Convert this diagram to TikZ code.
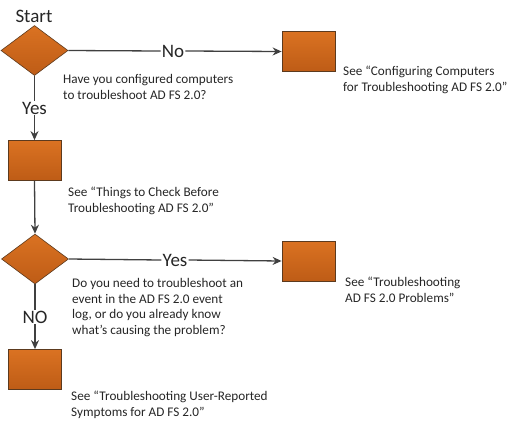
\documentclass[tikz,border=0pt]{standalone}
\usepackage{fontspec}
\setmainfont{Carlito}
\usetikzlibrary{shapes.geometric,arrows.meta}
\definecolor{boxtop}{HTML}{DA7222}
\definecolor{boxbot}{HTML}{BE5C16}
\definecolor{boxedge}{HTML}{5C3A1E}
\definecolor{linec}{HTML}{404040}
\definecolor{txt}{HTML}{262626}
\tikzset{
  decision/.style={diamond, draw=boxedge, line width=0.6pt, top color=boxtop, bottom color=boxbot,
    minimum width=67pt, minimum height=50pt, inner sep=0pt},
  stepbox/.style={rectangle, draw=boxedge, line width=0.8pt, top color=boxtop, bottom color=boxbot,
    minimum width=53pt, minimum height=40pt, inner sep=0pt},
  conn/.style={draw=linec, line width=1.3pt},
  arr/.style={conn, -{Stealth[length=9pt,width=8pt]}},
  desc/.style={anchor=base west, inner sep=0pt, align=left, text=txt,
    font=\fontsize{13.2pt}{15.6pt}\selectfont},
  biglbl/.style={fill=white, inner sep=1pt, text=txt, font=\fontsize{19pt}{22pt}\selectfont},
}
\begin{document}
\begin{tikzpicture}[x=1pt,y=-1pt]
\useasboundingbox (0,0) rectangle (510,421);
% shapes
\node[decision] (d1) at (34.5,50.5) {};
\node[stepbox] (b2) at (308.5,51.5) {};
\node[stepbox] (b3) at (34.5,160.5) {};
\node[decision] (d2) at (35,259) {};
\node[stepbox] (b4) at (308.5,261) {};
\node[stepbox] (b5) at (35,369.5) {};
% big labels
\node[biglbl, anchor=base, fill=none] (start) at (34,22) {Start};
% connectors
\node[biglbl] (no1) at (173,51) {No};
\draw[conn] (d1.east) -- (no1.west);
\draw[arr] (no1.east) -- (b2.west);
\node[biglbl] (yes1) at (34.5,108) {Yes};
\draw[conn] (d1.south) -- (yes1.north);
\draw[arr] (yes1.south) -- (b3.north);
\draw[arr] (b3.south) -- (d2.north);
\node[biglbl] (yes2) at (175,260) {Yes};
\draw[conn] (d2.east) -- (yes2.west);
\draw[arr] (yes2.east) -- (b4.west);
\node[biglbl] (no2) at (35,317) {NO};
\draw[conn] (d2.south) -- (no2.north);
\draw[arr] (no2.south) -- (b5.north);
% descriptions (anchored at the baseline of the last line)
\node[desc] (t1) at (63,99.5) {Have you configured computers\\to troubleshoot AD FS 2.0?};
\node[desc] (t2) at (343,91) {See “Configuring Computers\\for Troubleshooting AD FS 2.0”};
\node[desc] (t3) at (68,212) {See “Things to Check Before\\Troubleshooting AD FS 2.0”};
\node[desc] (t4) at (72,334.5) {Do you need to troubleshoot an\\event in the AD FS 2.0 event\\log, or do you already know\\what’s causing the problem?};
\node[desc] (t5) at (345,302) {See “Troubleshooting\\AD FS 2.0 Problems”};
\node[desc] (t6) at (71,416) {See “Troubleshooting User-Reported\\Symptoms for AD FS 2.0”};
\end{tikzpicture}
\end{document}
